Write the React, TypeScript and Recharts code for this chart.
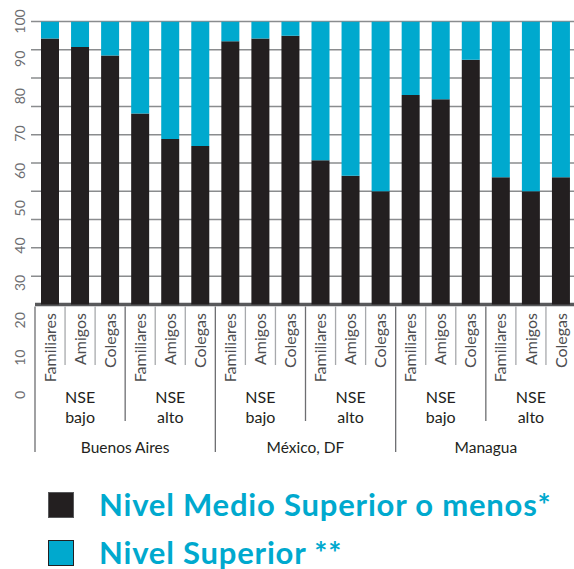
import React from "react";
import { BarChart, Bar, XAxis, YAxis, CartesianGrid, ReferenceArea } from "recharts";

// ---- data ----
const cities = ["Buenos Aires", "México, DF", "Managua"];
const nseLevels = ["bajo", "alto"];
const relations = ["Familiares", "Amigos", "Colegas"];
const medioSuperiorOMenos = [94, 91, 88, 67.5, 58.5, 56, 93, 94, 95, 51, 45.5, 40, 74, 72.5, 86.5, 45, 40, 45];
const nivelSuperior = [6, 9, 12, 32.5, 41.5, 44, 7, 6, 5, 49, 54.5, 60, 26, 27.5, 13.5, 55, 60, 55];
const yTickLabels = [0, 10, 20, 30, 40, 50, 60, 70, 80, 90, 100];
const gridValues = [10, 20, 30, 40, 50, 60, 70, 80, 90, 100];
const legendLabels = ["Nivel Medio Superior o menos*", "Nivel Superior **"];

const R = relations.length; // bars per NSE group
const G = R * nseLevels.length; // bars per city

const data = medioSuperiorOMenos.map((m, i) => ({
  id: String(i),
  rel: relations[i % R],
  nse: nseLevels[Math.floor(i / R) % nseLevels.length],
  city: cities[Math.floor(i / G)],
  medio: m,
  superior: nivelSuperior[i],
}));

const N = data.length;

// ---- layout / style ----
const DARK = "#231f20";
const CYAN = "#00a9ce";
const FONT = "Lato, 'Open Sans', sans-serif";
const W = 578;
const H = 569;
const PLOT_TOP = 21.5;
const PLOT_BOTTOM = 395;
const Y_AXIS_W = 31;
const PAD_LEFT = 4;
const MARGIN_RIGHT = 2;
const BAND = (W - MARGIN_RIGHT - Y_AXIS_W - PAD_LEFT) / N;

const YLabelTick = (props: any) => {
  const { x, y, payload } = props;
  return (
    <text
      transform={`translate(${x},${y}) rotate(-90)`}
      textAnchor="middle"
      dy="0.35em"
      fontFamily={FONT}
      fontSize={14}
      fill="#6d6e71"
    >
      {payload.value}
    </text>
  );
};

// multi-level category tick: relation label, separators, NSE group label, city label
const CatTick = (props: any) => {
  const { x, y, payload } = props;
  const i = Number(payload.value);
  const row = data[i];
  if (!row) return <g />;
  const left = x - BAND / 2;
  const sepEnd = i % G === 0 ? y + 57 : i % R === 0 ? y + 26 : y - 30;
  const sepColor = i % R === 0 ? "#6d6e71" : "#a7a9ac";
  return (
    <g>
      <line x1={left} x2={left} y1={y - 88.5} y2={sepEnd} stroke={sepColor} strokeWidth={1.3} />
      <text
        transform={`translate(${x},${y - 82}) rotate(-90)`}
        textAnchor="end"
        dy="0.35em"
        fontFamily={FONT}
        fontSize={16}
        fill="#4d4d4f"
      >
        {row.rel}
      </text>
      {i % R === Math.floor(R / 2) && (
        <text x={x} y={y} textAnchor="middle" fontFamily={FONT} fontSize={16} fill={DARK}>
          <tspan x={x} y={y + 8}>NSE</tspan>
          <tspan x={x} y={y + 28}>{row.nse}</tspan>
        </text>
      )}
      {i % G === G / 2 && (
        <text x={left} y={y + 58} textAnchor="middle" fontFamily={FONT} fontSize={15.5} fill={DARK}>
          {row.city}
        </text>
      )}
    </g>
  );
};

export default function App() {
  return (
    <div
      style={{
        position: "fixed",
        left: 0,
        top: 0,
        width: 574,
        height: 569,
        overflow: "hidden",
        background: "#fff",
      }}
    >
      <BarChart
        width={W}
        height={H}
        data={data}
        margin={{ top: PLOT_TOP, right: MARGIN_RIGHT, left: 0, bottom: H - PLOT_BOTTOM - 1 }}
        barSize={18}
      >
        <CartesianGrid
          xAxisId="cat"
          yAxisId="bar"
          vertical={false}
          horizontalValues={gridValues}
          stroke="#8a8c8e"
          strokeWidth={1.5}
        />
        <YAxis
          yAxisId="lbl"
          orientation="left"
          type="number"
          domain={[0, 100]}
          allowDataOverflow
          ticks={yTickLabels}
          interval={0}
          width={Y_AXIS_W}
          axisLine={false}
          tickLine={false}
          tickSize={0}
          tickMargin={11}
          tick={<YLabelTick />}
        />
        <YAxis
          yAxisId="bar"
          orientation="right"
          width={0}
          type="number"
          domain={[-32, 100]}
          allowDataOverflow
          ticks={gridValues}
          hide
        />
        <XAxis
          xAxisId="cat"
          dataKey="id"
          type="category"
          height={1}
          padding={{ left: PAD_LEFT, right: 0 }}
          axisLine={false}
          tickLine={false}
          tickSize={0}
          tickMargin={0}
          interval={0}
          tick={<CatTick />}
        />
        <Bar
          xAxisId="cat"
          yAxisId="bar"
          dataKey="medio"
          stackId="s"
          fill={DARK}
          isAnimationActive={false}
        />
        <Bar
          xAxisId="cat"
          yAxisId="bar"
          dataKey="superior"
          stackId="s"
          fill={CYAN}
          isAnimationActive={false}
        />
        <ReferenceArea
          xAxisId="cat"
          yAxisId="bar"
          x1={data[0].id}
          x2={data[N - 1].id}
          y1={-0.6}
          y2={0.6}
          fill="#58595b"
          fillOpacity={1}
          stroke="none"
        />
      </BarChart>
      {legendLabels.map((label, i) => (
        <div
          key={label}
          style={{
            position: "absolute",
            left: 48,
            top: 491 + i * 48,
            display: "flex",
            alignItems: "center",
            height: 27,
          }}
        >
          <div
            style={{
              width: 24,
              height: 24,
              background: i === 0 ? DARK : CYAN,
              border: `1.5px solid ${i === 0 ? "#58595b" : DARK}`,
            }}
          />
          <span
            style={{
              marginLeft: 25,
              fontFamily: FONT,
              fontWeight: 700,
              fontSize: 31,
              letterSpacing: 0.8,
              color: CYAN,
              whiteSpace: "nowrap",
              lineHeight: "27px",
            }}
          >
            {label}
          </span>
        </div>
      ))}
    </div>
  );
}
